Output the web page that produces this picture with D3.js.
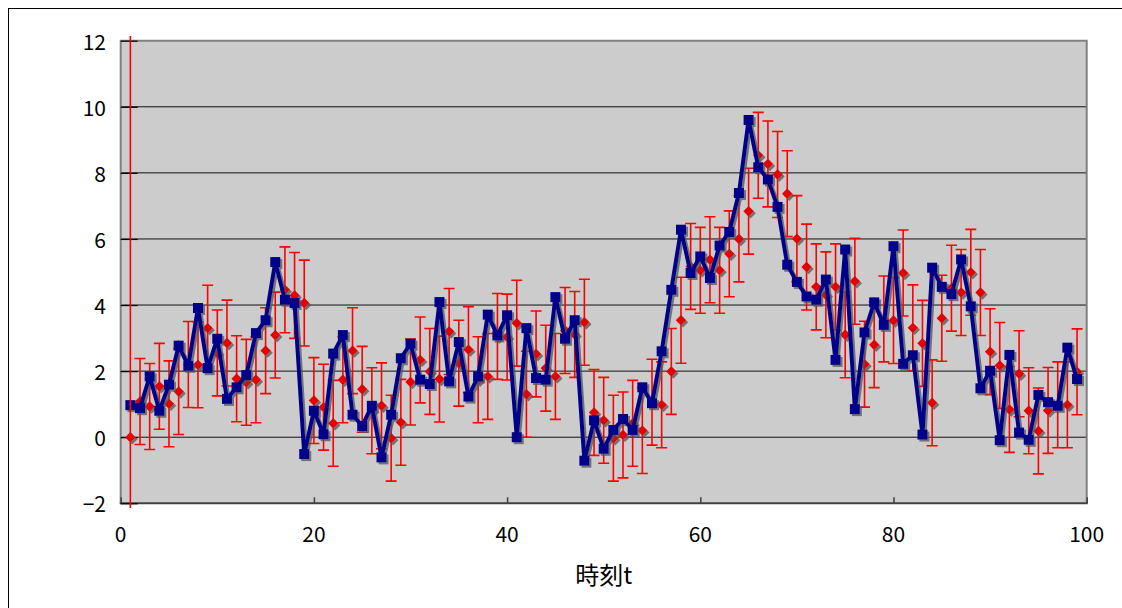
<!DOCTYPE html>
<html>
<head>
<meta charset="utf-8">
<script src="https://cdn.jsdelivr.net/npm/d3@7"></script>
<style>
  html, body { margin: 0; padding: 0; background: #fff; overflow: hidden; }
  svg { display: block; }
  text { font-family: "Noto Sans CJK JP", "Noto Sans", sans-serif; fill: #000; }
</style>
</head>
<body>
<svg id="chart" width="1122" height="608"></svg>
<script>
// time steps t = 1 .. 99
const timeSteps = d3.range(1, 100);

// series A: observed signal (blue squares joined by a line)
const observed = [
  0.97, 0.88, 1.84, 0.80, 1.59, 2.77, 2.16, 3.91, 2.09, 2.98,
  1.16, 1.51, 1.88, 3.15, 3.54, 5.30, 4.16, 4.06, -0.51, 0.80,
  0.09, 2.53, 3.09, 0.68, 0.34, 0.95, -0.61, 0.68, 2.39, 2.83,
  1.74, 1.61, 4.09, 1.69, 2.88, 1.23, 1.84, 3.71, 3.08, 3.69,
  0.00, 3.30, 1.79, 1.74, 4.24, 2.98, 3.54, -0.71, 0.51, -0.35,
  0.22, 0.55, 0.22, 1.51, 1.03, 2.60, 4.46, 6.28, 4.97, 5.47,
  4.82, 5.80, 6.21, 7.39, 9.60, 8.17, 7.80, 6.97, 5.22, 4.70,
  4.26, 4.16, 4.77, 2.34, 5.68, 0.85, 3.17, 4.08, 3.40, 5.78,
  2.22, 2.48, 0.08, 5.13, 4.55, 4.33, 5.38, 3.96, 1.48, 2.01,
  -0.09, 2.49, 0.14, -0.08, 1.28, 1.06, 0.95, 2.71, 1.76
];

// series B: estimate (red diamonds with error bars)
const estimate = [
  0.00, 1.08, 0.93, 1.54, 1.01, 1.38, 2.20, 2.19, 3.30, 2.55,
  2.85, 1.77, 1.66, 1.74, 2.62, 3.09, 4.46, 4.29, 4.06, 1.11,
  0.91, 0.42, 1.74, 2.62, 1.45, 0.80, 0.95, -0.03, 0.45, 1.67,
  2.34, 1.99, 1.76, 3.20, 2.24, 2.65, 1.74, 1.84, 3.05, 3.03,
  3.45, 1.30, 2.52, 2.09, 1.84, 3.23, 3.11, 3.48, 0.75, 0.51,
  -0.03, 0.07, 0.42, 0.20, 1.06, 0.98, 1.99, 3.54, 5.17, 5.05,
  5.37, 5.05, 5.55, 6.00, 6.84, 8.53, 8.27, 7.95, 7.37, 6.01,
  5.15, 4.55, 4.31, 4.55, 3.10, 4.72, 2.21, 2.80, 3.58, 3.53,
  4.97, 3.31, 2.84, 1.04, 3.60, 4.51, 4.38, 4.99, 4.38, 2.59,
  2.17, 0.84, 1.92, 0.80, 0.19, 0.81, 0.98, 0.98, 1.98
];

// half-width of the error bar on every estimate
const errorHalf = [1.3];

// the first step's error bar spans the whole value range
const firstStepBar = { t: 1, low: -2.14, high: 12.14 };

const xTicks = [0, 20, 40, 60, 80, 100];
const yTicks = [-2, 0, 2, 4, 6, 8, 10, 12];
const xTitle = "時刻t";

const svg = d3.select("#chart");

const x = d3.scaleLinear().domain([0, 100]).range([120.7, 1086.7]);
const y = d3.scaleLinear().domain([-2, 12]).range([503.3, 40.7]);

// drop shadow used by the markers and the line
const defs = svg.append("defs");
const shadow = defs.append("filter").attr("id", "shadow")
  .attr("x", "-20%").attr("y", "-20%").attr("width", "140%").attr("height", "140%");
shadow.append("feDropShadow")
  .attr("dx", 2).attr("dy", 2).attr("stdDeviation", 0.6)
  .attr("flood-color", "#555").attr("flood-opacity", 0.75);

// outer chart frame
svg.append("rect")
  .attr("x", 8.5).attr("y", 8.5).attr("width", 1300).attr("height", 800)
  .attr("fill", "none").attr("stroke", "#000").attr("stroke-width", 1);

// plot area
const [x0, x1] = x.range();
const [yb, yt] = y.range();
svg.append("rect")
  .attr("x", x0).attr("y", yt).attr("width", x1 - x0).attr("height", yb - yt)
  .attr("fill", "#cccccc");

// horizontal grid lines
svg.append("g")
  .selectAll("line")
  .data(yTicks.filter(v => v > -2 && v < 12))
  .join("line")
  .attr("x1", x0).attr("x2", x1)
  .attr("y1", d => y(d)).attr("y2", d => y(d))
  .attr("stroke", "#111").attr("stroke-width", 1);

// plot border: grey top/left/right, dark bottom axis line
svg.append("path")
  .attr("d", `M${x0},${yb}V${yt}H${x1}V${yb}`)
  .attr("fill", "none").attr("stroke", "#808080").attr("stroke-width", 2);
svg.append("line")
  .attr("x1", x0 - 1).attr("x2", x1 + 1).attr("y1", yb).attr("y2", yb)
  .attr("stroke", "#404040").attr("stroke-width", 2);

// y axis: inward ticks and labels
const yAxis = d3.axisRight(y).tickValues(yTicks).tickSize(17).tickFormat("");
svg.append("g")
  .attr("transform", `translate(${x0},0)`)
  .call(yAxis)
  .call(g => g.select(".domain").remove())
  .call(g => g.selectAll(".tick line").attr("stroke", "#000").attr("stroke-width", 1.2));
svg.append("g")
  .selectAll("text")
  .data(yTicks)
  .join("text")
  .attr("x", 106).attr("y", d => y(d))
  .attr("text-anchor", "end").attr("dominant-baseline", "central")
  .attr("font-size", 21)
  .text(d => d < 0 ? "\u2212" + Math.abs(d) : String(d));

// x axis: inward ticks and labels
const xAxis = d3.axisTop(x).tickValues(xTicks).tickSize(6).tickFormat("");
svg.append("g")
  .attr("transform", `translate(0,${yb})`)
  .call(xAxis)
  .call(g => g.select(".domain").remove())
  .call(g => g.selectAll(".tick line").attr("stroke", "#404040").attr("stroke-width", 1.5));
svg.append("g")
  .selectAll("text")
  .data(xTicks)
  .join("text")
  .attr("x", d => x(d)).attr("y", 542)
  .attr("text-anchor", "middle")
  .attr("font-size", 21)
  .text(d => d);

// axis title
svg.append("text")
  .attr("x", (x0 + x1) / 2).attr("y", 584)
  .attr("text-anchor", "middle")
  .attr("font-size", 24)
  .text(xTitle);

const est = timeSteps.map((t, i) => ({ t, v: estimate[i], e: errorHalf[0] }));
const obs = timeSteps.map((t, i) => ({ t, v: observed[i] }));

// error bars on the estimates (skip step 1, drawn separately)
const capW = 5.5;
const bars = svg.append("g").attr("stroke", "#ff0000").attr("stroke-width", 1.6).attr("fill", "none");
bars.selectAll("path")
  .data(est.filter(d => d.t !== firstStepBar.t))
  .join("path")
  .attr("d", d => {
    const cx = x(d.t), hi = y(d.v + d.e), lo = y(d.v - d.e);
    return `M${cx},${hi}V${lo}M${cx - capW},${hi}H${cx + capW}M${cx - capW},${lo}H${cx + capW}`;
  });

// estimate markers: diamonds
const dsz = 5.2;
svg.append("g").attr("filter", "url(#shadow)")
  .selectAll("path")
  .data(est)
  .join("path")
  .attr("d", d => {
    const cx = x(d.t), cy = y(d.v);
    return `M${cx},${cy - dsz}L${cx + dsz},${cy}L${cx},${cy + dsz}L${cx - dsz},${cy}Z`;
  })
  .attr("fill", "#e60000");

// observed signal: line and square markers
const line = d3.line().x(d => x(d.t)).y(d => y(d.v));
const blue = svg.append("g").attr("filter", "url(#shadow)");
blue.append("path")
  .datum(obs)
  .attr("d", line)
  .attr("fill", "none").attr("stroke", "#00008b").attr("stroke-width", 4)
  .attr("stroke-linejoin", "miter").attr("stroke-miterlimit", 3);
const sq = 10;
blue.selectAll("rect")
  .data(obs)
  .join("rect")
  .attr("x", d => x(d.t) - sq / 2).attr("y", d => y(d.v) - sq / 2)
  .attr("width", sq).attr("height", sq)
  .attr("fill", "#00008b");

// full-height error bar at the first step
svg.append("line")
  .attr("x1", x(firstStepBar.t)).attr("x2", x(firstStepBar.t))
  .attr("y1", y(firstStepBar.high)).attr("y2", y(firstStepBar.low))
  .attr("stroke", "#ff0000").attr("stroke-width", 1.6);
</script>
</body>
</html>
